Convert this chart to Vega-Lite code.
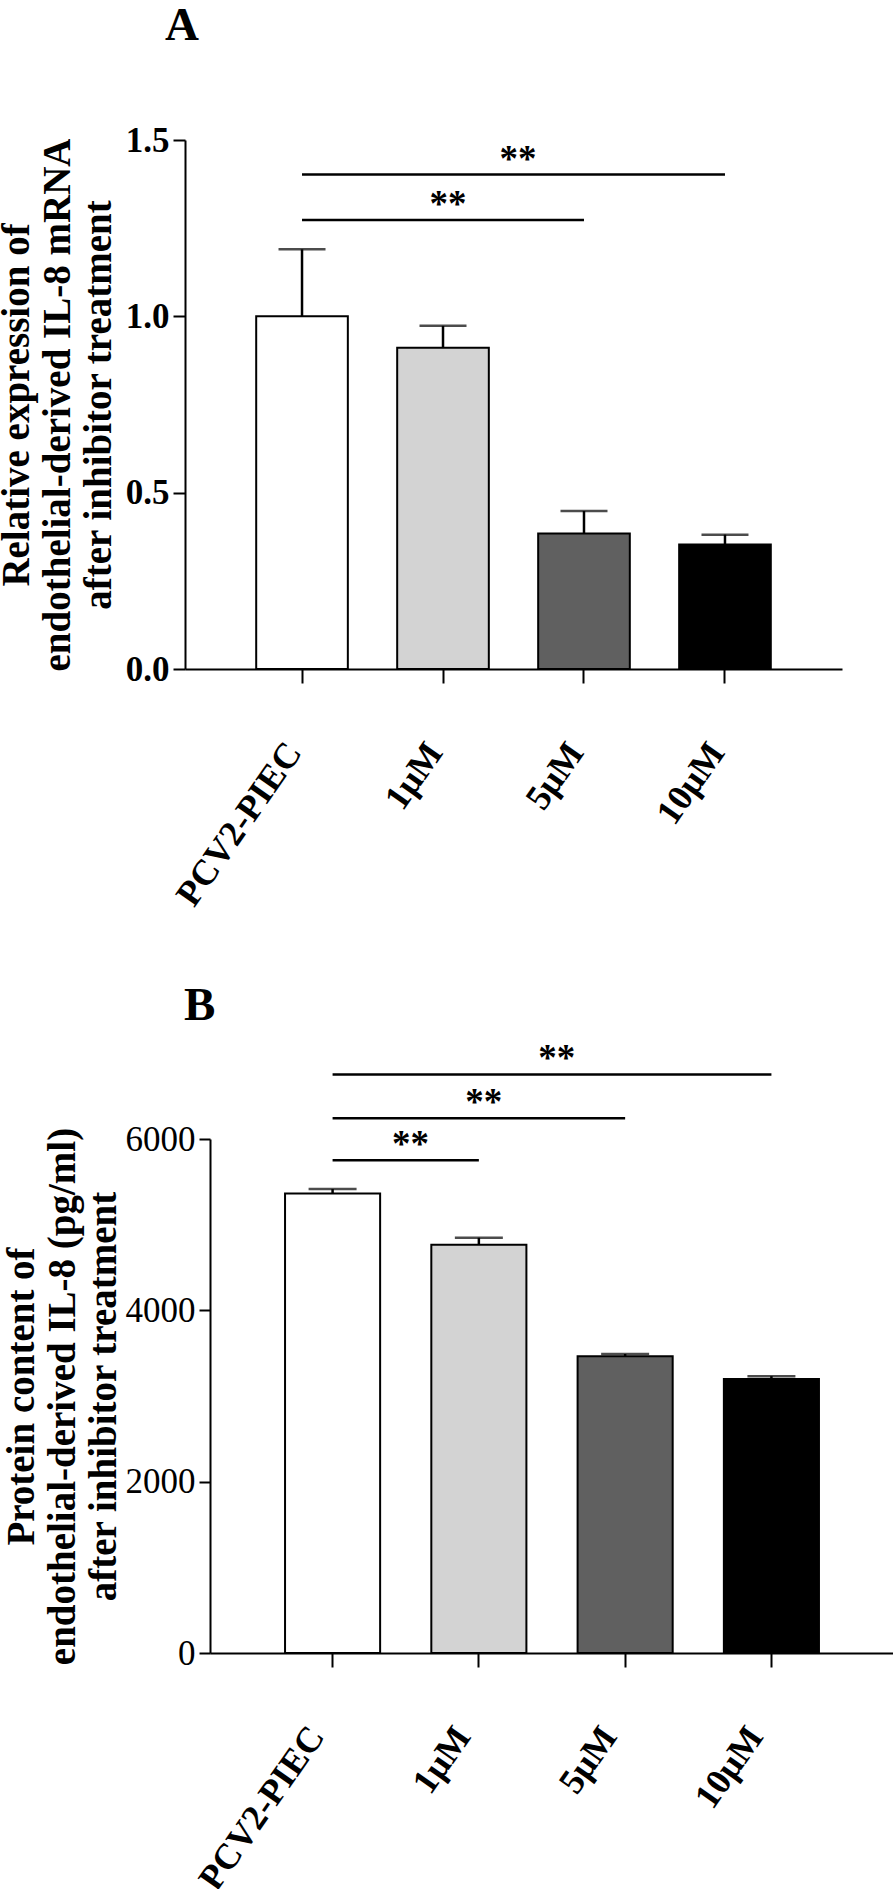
{
  "$schema": "https://vega.github.io/schema/vega-lite/v6.json",
  "background": "white",
  "padding": {"left": -3, "top": 2, "right": 0, "bottom": 0},
  "spacing": 70,
  "config": {
    "font": "Liberation Serif",
    "view": {"stroke": null},
    "axis": {
      "grid": false,
      "domainColor": "black",
      "domainWidth": 2,
      "tickColor": "black",
      "tickWidth": 2,
      "labelColor": "black",
      "titleColor": "black",
      "labelFont": "Liberation Serif",
      "titleFont": "Liberation Serif"
    },
    "axisX": {
      "title": null,
      "tickSize": 14,
      "labelAngle": -55,
      "labelAlign": "right",
      "labelBaseline": "middle",
      "labelFontSize": 36,
      "labelFontWeight": "bold",
      "labelPadding": 63,
      "labelOffset": -8,
      "labelLimit": 0
    },
    "title": {"font": "Liberation Serif", "color": "black", "fontWeight": "bold", "fontSize": 47}
  },
  "vconcat": [
    {
      "width": 657,
      "height": 529,
      "title": {"text": "A", "anchor": "start", "frame": "group", "dx": -20, "offset": 73},
      "layer": [
        {
          "data": {"values": [
            {"group": "PCV2-PIEC", "mean": 1.0, "upper": 1.19},
            {"group": "1μM", "mean": 0.911, "upper": 0.973},
            {"group": "5μM", "mean": 0.384, "upper": 0.448},
            {"group": "10μM", "mean": 0.353, "upper": 0.381}
          ]},
          "layer": [
            {
              "mark": {"type": "bar", "stroke": "black", "strokeWidth": 2},
              "encoding": {
                "x": {"field": "group", "type": "nominal", "sort": null,
                  "scale": {"domain": ["PCV2-PIEC", "1μM", "5μM", "10μM"], "paddingInner": 0.35, "paddingOuter": 0.505},
                  "axis": {"title": null}},
                "y": {"field": "mean", "type": "quantitative",
                  "scale": {"domain": [0, 1.5], "nice": false},
                  "axis": {
                    "values": [0, 0.5, 1.0, 1.5], "format": ".1f",
                    "labelFontSize": 35, "labelFontWeight": "bold", "labelPadding": 4, "tickSize": 12,
                    "title": ["Relative expression of", "endothelial-derived IL-8 mRNA", "after inhibitor treatment"],
                    "titleFontSize": 39, "titleFontWeight": "bold", "titleLineHeight": 41, "titlePadding": 7
                  }},
                "fill": {"field": "group", "type": "nominal",
                  "scale": {"domain": ["PCV2-PIEC", "1μM", "5μM", "10μM"], "range": ["#ffffff", "#d3d3d3", "#606060", "#000000"]},
                  "legend": null}
              }
            },
            {
              "mark": {"type": "rule", "color": "black", "strokeWidth": 2.5},
              "encoding": {
                "x": {"field": "group", "type": "nominal", "sort": null},
                "y": {"field": "mean", "type": "quantitative"},
                "y2": {"field": "upper"}
              }
            },
            {
              "mark": {"type": "tick", "color": "black", "thickness": 2.5, "size": 47},
              "encoding": {
                "x": {"field": "group", "type": "nominal", "sort": null},
                "y": {"field": "upper", "type": "quantitative"}
              }
            }
          ]
        },
        {
          "data": {"values": [
            {"from": "PCV2-PIEC", "to": "10μM", "y": 1.402},
            {"from": "PCV2-PIEC", "to": "5μM", "y": 1.273}
          ]},
          "mark": {"type": "rule", "color": "black", "strokeWidth": 2.5},
          "encoding": {
            "x": {"field": "from", "type": "nominal"},
            "x2": {"field": "to"},
            "y": {"field": "y", "type": "quantitative"}
          }
        },
        {
          "data": {"values": [{"at": "1μM", "y": 1.273, "label": "**"}]},
          "mark": {"type": "text", "fontSize": 37, "fontWeight": "bold", "baseline": "alphabetic", "dx": 5, "dy": -4, "color": "black"},
          "encoding": {
            "x": {"field": "at", "type": "nominal"},
            "y": {"field": "y", "type": "quantitative"},
            "text": {"field": "label"}
          }
        },
        {
          "data": {"values": [{"at": "1μM", "y": 1.402, "label": "**"}]},
          "mark": {"type": "text", "fontSize": 37, "fontWeight": "bold", "baseline": "alphabetic", "dx": 75, "dy": -4, "color": "black"},
          "encoding": {
            "x": {"field": "at", "type": "nominal"},
            "y": {"field": "y", "type": "quantitative"},
            "text": {"field": "label"}
          }
        }
      ]
    },
    {
      "width": 709,
      "height": 514,
      "title": {"text": "B", "anchor": "start", "frame": "group", "dx": -1, "offset": 10},
      "layer": [
        {
          "data": {"values": [
            {"group": "PCV2-PIEC", "mean": 5363, "upper": 5416},
            {"group": "1μM", "mean": 4767, "upper": 4847},
            {"group": "5μM", "mean": 3463, "upper": 3490},
            {"group": "10μM", "mean": 3198, "upper": 3232}
          ]},
          "layer": [
            {
              "mark": {"type": "bar", "stroke": "black", "strokeWidth": 2},
              "encoding": {
                "x": {"field": "group", "type": "nominal", "sort": null,
                  "scale": {"domain": ["PCV2-PIEC", "1μM", "5μM", "10μM"], "range": [25, 709], "paddingInner": 0.35, "paddingOuter": 0.513},
                  "axis": {"title": null, "labelOffset": -16}},
                "y": {"field": "mean", "type": "quantitative",
                  "scale": {"domain": [0, 6000], "nice": false},
                  "axis": {
                    "values": [0, 2000, 4000, 6000], "format": "d", "offset": -25,
                    "labelFontSize": 35, "labelFontWeight": "normal", "labelPadding": 4, "tickSize": 11,
                    "title": ["Protein content of", "endothelial-derived IL-8 (pg/ml)", "after inhibitor treatment"],
                    "titleFontSize": 39, "titleFontWeight": "bold", "titleLineHeight": 41, "titlePadding": 2
                  }},
                "fill": {"field": "group", "type": "nominal",
                  "scale": {"domain": ["PCV2-PIEC", "1μM", "5μM", "10μM"], "range": ["#ffffff", "#d3d3d3", "#606060", "#000000"]},
                  "legend": null}
              }
            },
            {
              "mark": {"type": "rule", "color": "black", "strokeWidth": 2.5},
              "encoding": {
                "x": {"field": "group", "type": "nominal", "sort": null},
                "y": {"field": "mean", "type": "quantitative"},
                "y2": {"field": "upper"}
              }
            },
            {
              "mark": {"type": "tick", "color": "black", "thickness": 2.5, "size": 48},
              "encoding": {
                "x": {"field": "group", "type": "nominal", "sort": null},
                "y": {"field": "upper", "type": "quantitative"}
              }
            }
          ]
        },
        {
          "data": {"values": [
            {"from": "PCV2-PIEC", "to": "10μM", "y": 6753},
            {"from": "PCV2-PIEC", "to": "5μM", "y": 6243},
            {"from": "PCV2-PIEC", "to": "1μM", "y": 5753}
          ]},
          "mark": {"type": "rule", "color": "black", "strokeWidth": 2.5},
          "encoding": {
            "x": {"field": "from", "type": "nominal"},
            "x2": {"field": "to"},
            "y": {"field": "y", "type": "quantitative"}
          }
        },
        {
          "data": {"values": [{"at": "1μM", "y": 6243, "label": "**"}]},
          "mark": {"type": "text", "fontSize": 37, "fontWeight": "bold", "baseline": "alphabetic", "dx": 5, "dy": -4, "color": "black"},
          "encoding": {
            "x": {"field": "at", "type": "nominal"},
            "y": {"field": "y", "type": "quantitative"},
            "text": {"field": "label"}
          }
        },
        {
          "data": {"values": [
            {"at": "1μM", "y": 6753, "label": "**"},
            {"at": "PCV2-PIEC", "y": 5753, "label": "**"}
          ]},
          "mark": {"type": "text", "fontSize": 37, "fontWeight": "bold", "baseline": "alphabetic", "dx": 78, "dy": -4, "color": "black"},
          "encoding": {
            "x": {"field": "at", "type": "nominal"},
            "y": {"field": "y", "type": "quantitative"},
            "text": {"field": "label"}
          }
        }
      ]
    }
  ]
}
